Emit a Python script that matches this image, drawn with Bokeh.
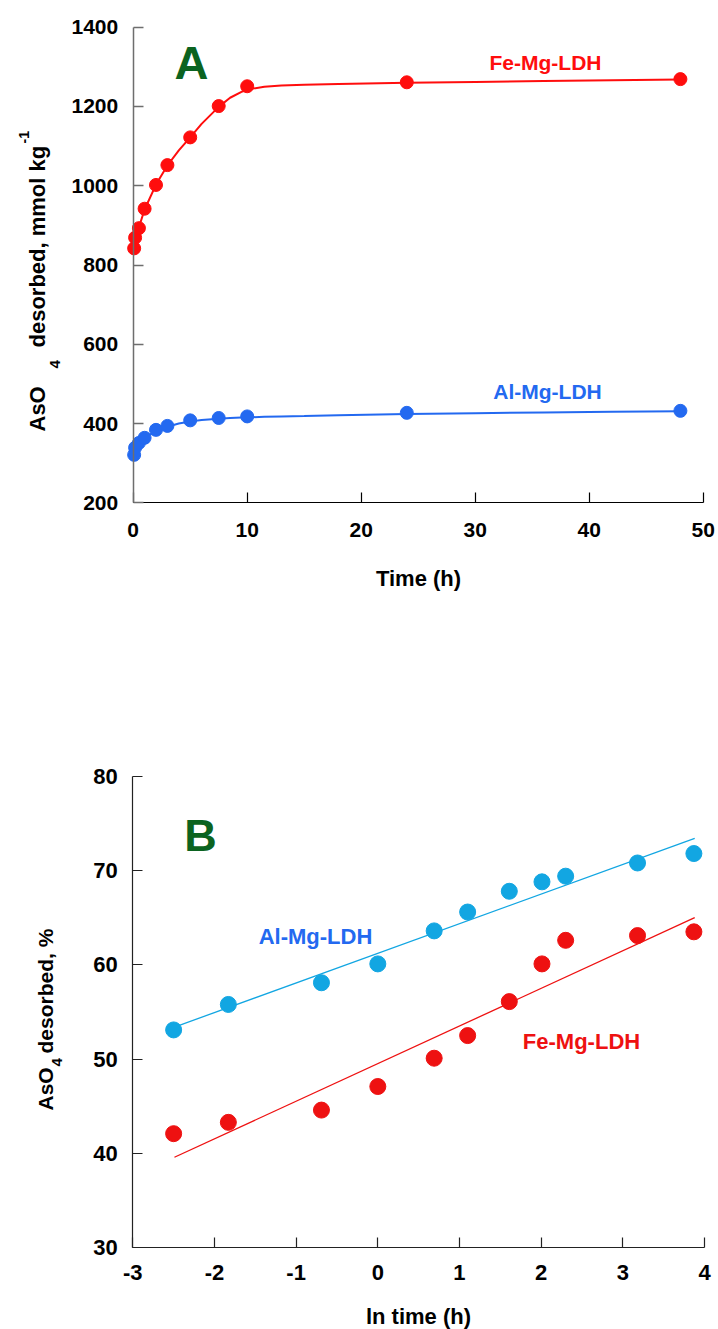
import math
from bokeh.plotting import figure
from bokeh.models import Label, Range1d
from bokeh.layouts import column
from bokeh.embed import file_html
from bokeh.resources import INLINE

FONT = "Liberation Sans"
RED_A = "#ff0d0d"
BLUE_A = "#2369f0"
RED_B = "#ee1111"
CYAN_B = "#12a6e2"
GREEN = "#0b6320"

# ---------------- Panel A data ----------------
time_h = [0.083, 0.167, 0.5, 1, 2, 3, 5, 7.5, 10, 24, 48]
fe_mmol = [842, 869, 893, 942, 1002, 1052, 1122, 1201, 1251, 1261, 1269]
al_mmol = [321, 339, 351, 364, 384, 394, 408, 414, 418, 427, 432]
# fitted curves
curve_t = [0.083, 0.167, 0.5, 1, 2, 3, 4, 5, 6, 7.5, 8.5, 9.5, 10.5, 11.5, 13, 15, 18, 24, 30, 36, 42, 48]
fe_curve = [845, 866, 895, 940, 1003, 1051, 1089, 1122, 1156, 1199, 1222, 1237, 1245, 1250, 1253, 1255, 1257, 1260, 1262, 1264, 1266, 1268]
al_curve = [323, 338, 352, 364, 381, 392, 400, 405, 409, 412, 414, 415, 416, 417, 418, 419, 421, 424, 426, 428, 430, 431]
xA_ticks = [0, 10, 20, 30, 40, 50]
yA_ticks = [200, 400, 600, 800, 1000, 1200, 1400]

# ---------------- Panel B data ----------------
ln_time = [-2.5, -1.83, -0.69, 0, 0.69, 1.1, 1.61, 2.01, 2.3, 3.18, 3.87]
al_pct = [53.1, 55.8, 58.1, 60.1, 63.6, 65.6, 67.8, 68.8, 69.4, 70.8, 71.8]
fe_pct = [42.1, 43.3, 44.6, 47.1, 50.1, 52.5, 56.1, 60.1, 62.6, 63.1, 63.5]
fit_ln = [-2.49, 3.88]
al_fit = [53.4, 73.4]
fe_fit = [39.6, 65.0]
xB_ticks = [-3, -2, -1, 0, 1, 2, 3, 4]
yB_ticks = [30, 40, 50, 60, 70, 80]

W = 718
HA, HB = 600, 729

# pixel geometry of the axes boxes (page pixels)
A_BOX = dict(left=132.7, right=702.7, top=26.7, bottom=502.3)
B_BOX = dict(left=132.3, right=704.0, top=775.7, bottom=1247.3)


def build(xlim, ylim, box, h, y0):
    """Figure whose frame is the whole canvas; axes placed with fixed_location."""
    kx = (box["right"] - box["left"]) / (xlim[1] - xlim[0])
    ky = (box["bottom"] - box["top"]) / (ylim[1] - ylim[0])

    def m(sx, sy):
        return (xlim[0] + (sx - box["left"]) / kx, ylim[1] - (sy - box["top"]) / ky)

    xs, _ = m(0, 0)
    xe, _ = m(W, 0)
    _, ys = m(0, y0 + h)
    _, ye = m(0, y0)
    p = figure(width=W, height=h, x_range=Range1d(xs, xe), y_range=Range1d(ys, ye),
               output_backend="svg", toolbar_location=None, min_border=0)
    p.grid.visible = False
    p.outline_line_color = None
    p.xaxis.fixed_location = ylim[0]
    p.yaxis.fixed_location = xlim[0]
    p.xaxis.bounds = xlim
    p.yaxis.bounds = ylim
    return p, m


def style_axes(p, size, xcolor, ycolor, xw, yw, sx, sy):
    for ax in p.axis:
        ax.major_tick_in = 10
        ax.major_tick_out = 0
        ax.minor_tick_in = 0
        ax.minor_tick_out = 0
        ax.major_label_text_font = FONT
        ax.major_label_text_font_style = "bold"
        ax.major_label_text_font_size = size
        ax.major_label_text_color = "black"
    p.xaxis.axis_line_color = xcolor
    p.xaxis.major_tick_line_color = xcolor
    p.xaxis.axis_line_width = xw
    p.xaxis.major_tick_line_width = xw
    p.yaxis.axis_line_color = ycolor
    p.yaxis.major_tick_line_color = ycolor
    p.yaxis.axis_line_width = yw
    p.yaxis.major_tick_line_width = yw
    p.xaxis.major_label_standoff = sx
    p.yaxis.major_label_standoff = sy


def txt(p, m, sx, sy, text, size, color="black", align="center", angle=0.0):
    x, y = m(sx, sy)
    p.add_layout(Label(x=x, y=y, text=text, text_font=FONT, text_font_style="bold",
                       text_font_size=size, text_color=color, text_align=align,
                       text_baseline="alphabetic", angle=angle))


UP = math.pi / 2

# ---------------- Panel A ----------------
pA, mA = build((0, 50), (200, 1400), A_BOX, HA, 0)
style_axes(pA, "21px", "black", "#6e6e6e", 1.2, 1.5, 20, 15)
pA.xaxis.ticker = xA_ticks
pA.yaxis.ticker = yA_ticks

pA.line(curve_t, fe_curve, line_color=RED_A, line_width=2)
pA.line(curve_t, al_curve, line_color=BLUE_A, line_width=2)
pA.scatter(time_h, fe_mmol, size=13, fill_color=RED_A, line_color=RED_A)
pA.scatter(time_h, al_mmol, size=13, fill_color=BLUE_A, line_color=BLUE_A)

txt(pA, mA, 191, 62, "A", "47px", GREEN)
txt(pA, mA, 545, 61.5, "Fe-Mg-LDH", "21px", RED_A)
txt(pA, mA, 547, 391, "Al-Mg-LDH", "21px", BLUE_A)
txt(pA, mA, 418, 578, "Time (h)", "22px")
txt(pA, mA, 37, 431, "AsO", "22px", align="left", angle=UP)
txt(pA, mA, 54, 368, "4", "15px", align="left", angle=UP)
txt(pA, mA, 37, 347, "desorbed, mmol kg", "22px", align="left", angle=UP)
txt(pA, mA, 23, 143, "-1", "14px", align="left", angle=UP)

# ---------------- Panel B ----------------
pB, mB = build((-3, 4), (30, 80), B_BOX, HB, HA)
style_axes(pB, "22px", "#222222", "#222222", 1.2, 1.2, 17, 15)
pB.xaxis.ticker = xB_ticks
pB.yaxis.ticker = yB_ticks
pB.xaxis.major_label_overrides = {v: str(v) for v in xB_ticks}

pB.line(fit_ln, al_fit, line_color=CYAN_B, line_width=1.3)
pB.line(fit_ln, fe_fit, line_color=RED_B, line_width=1.3)
pB.scatter(ln_time, al_pct, size=16, fill_color=CYAN_B, line_color=CYAN_B)
pB.scatter(ln_time, fe_pct, size=16, fill_color=RED_B, line_color=RED_B)

txt(pB, mB, 200, 835, "B", "45px", GREEN)
txt(pB, mB, 315, 936, "Al-Mg-LDH", "22px", BLUE_A)
txt(pB, mB, 581, 1041, "Fe-Mg-LDH", "22px", RED_B)
txt(pB, mB, 418, 1316, "ln time (h)", "22px")
txt(pB, mB, 45, 1110, "AsO", "21px", align="left", angle=UP)
txt(pB, mB, 56, 1066, "4", "15px", align="left", angle=UP)
txt(pB, mB, 45, 1053, "desorbed, %", "21px", align="left", angle=UP)

layout = column(pA, pB)
open("out.html", "w").write(file_html(layout, INLINE))
